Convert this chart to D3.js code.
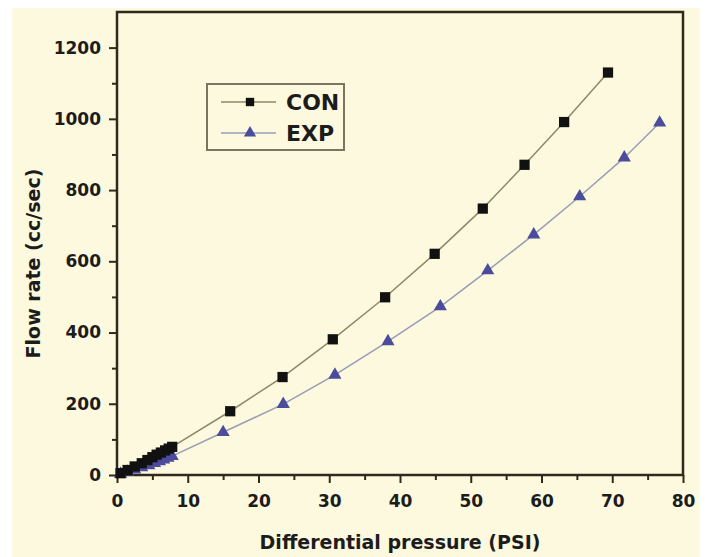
<!DOCTYPE html>
<html>
<head>
<meta charset="utf-8">
<script src="https://cdn.jsdelivr.net/npm/d3@7"></script>
<style>
  body { margin: 0; background: #fff; }
  text { font-family: "DejaVu Sans", "Liberation Sans", sans-serif; font-weight: bold; fill: #1c1c1c; }
</style>
</head>
<body>
<div id="chart"></div>
<script>
// CON series (squares)
const conX = [0.5, 1.5, 2.5, 3.5, 4.3, 5.0, 5.6, 6.2, 6.8, 7.3, 7.8, 16.0, 23.4, 30.5, 37.9, 44.9, 51.7, 57.6, 63.2, 69.4];
const conY = [5, 14, 24, 33, 42, 50, 57, 63, 69, 74, 79, 179, 275, 381, 499, 621, 748, 871, 991, 1130];
// EXP series (triangles)
const expX = [0.5, 1.5, 2.5, 3.5, 4.5, 5.3, 6.0, 6.6, 7.2, 7.8, 15.0, 23.5, 30.8, 38.3, 45.7, 52.4, 58.9, 65.4, 71.7, 76.7];
const expY = [3, 9, 15, 21, 27, 33, 38, 43, 48, 53, 120, 199, 281, 375, 473, 574, 675, 782, 891, 989];

const xTicks = [0, 10, 20, 30, 40, 50, 60, 70, 80];
const yTicks = [0, 200, 400, 600, 800, 1000, 1200];
const seriesNames = ['CON', 'EXP'];

const W = 709, H = 557;
const margin = {top: 12, right: 26, bottom: 82, left: 117};

const svg = d3.select('#chart').append('svg')
    .attr('width', W)
    .attr('height', H);

// cream background panel
svg.append('rect')
    .attr('x', 12).attr('y', 8)
    .attr('width', 688).attr('height', H - 8)
    .attr('fill', '#fdf9df');

const x = d3.scaleLinear().domain([0, 80]).range([margin.left, W - margin.right]);
const y = d3.scaleLinear().domain([0, 1300]).range([H - margin.bottom, margin.top]);

const axisColor = '#2f2a1c';

// minor ticks
const xMinor = d3.range(5, 80, 10);
const yMinor = d3.range(100, 1300, 200);

svg.append('g')
    .attr('transform', `translate(0,${y(0)})`)
    .call(d3.axisBottom(x).tickValues(xTicks).tickFormat(d3.format('d')).tickSize(8).tickPadding(12).tickSizeOuter(0));
svg.append('g')
    .attr('transform', `translate(0,${y(0)})`)
    .call(d3.axisBottom(x).tickValues(xMinor).tickSize(5).tickFormat('').tickSizeOuter(0));

svg.append('g')
    .attr('transform', `translate(${x(0)},0)`)
    .call(d3.axisLeft(y).tickValues(yTicks).tickFormat(d3.format('d')).tickSize(8).tickPadding(8).tickSizeOuter(0));
svg.append('g')
    .attr('transform', `translate(${x(0)},0)`)
    .call(d3.axisLeft(y).tickValues(yMinor).tickSize(5).tickFormat('').tickSizeOuter(0));

svg.selectAll('.domain').remove();
svg.selectAll('.tick line').attr('stroke', axisColor).attr('stroke-width', 2);
svg.selectAll('.tick text')
    .attr('font-family', null).attr('font-size', null)
    .style('font-size', '17px').attr('fill', '#1c1c1c');

// frame
svg.append('rect')
    .attr('x', x(0)).attr('y', y(1300))
    .attr('width', x(80) - x(0)).attr('height', y(0) - y(1300))
    .attr('fill', 'none')
    .attr('stroke', axisColor)
    .attr('stroke-width', 2.5);

// axis titles
svg.append('text')
    .attr('x', (x(0) + x(80)) / 2)
    .attr('y', 549)
    .attr('text-anchor', 'middle')
    .style('font-size', '19px')
    .text('Differential pressure (PSI)');

svg.append('text')
    .attr('transform', `translate(40,${(y(0) + y(1300)) / 2 + 20}) rotate(-90)`)
    .attr('text-anchor', 'middle')
    .style('font-size', '19px')
    .text('Flow rate (cc/sec)');

const line = d3.line().x(d => x(d[0])).y(d => y(d[1]));
const con = conX.map((v, i) => [v, conY[i]]);
const exp = expX.map((v, i) => [v, expY[i]]);

const conLine = '#8e876a', expLine = '#9a9cb4';
const conFill = '#111', expFill = '#4b4c9c';

svg.append('path').datum(con).attr('d', line)
    .attr('fill', 'none').attr('stroke', conLine).attr('stroke-width', 1.5);
svg.append('path').datum(exp).attr('d', line)
    .attr('fill', 'none').attr('stroke', expLine).attr('stroke-width', 1.5);

const sq = d3.symbol().type(d3.symbolSquare).size(105);
const tri = d3.symbol().type(d3.symbolTriangle).size(75);

svg.append('g').selectAll('path').data(exp).join('path')
    .attr('d', tri)
    .attr('transform', d => `translate(${x(d[0])},${y(d[1])})`)
    .attr('fill', expFill);
svg.append('g').selectAll('path').data(con).join('path')
    .attr('d', sq)
    .attr('transform', d => `translate(${x(d[0])},${y(d[1])})`)
    .attr('fill', conFill);

// legend
const lg = svg.append('g');
lg.append('rect')
    .attr('x', 207).attr('y', 84)
    .attr('width', 137).attr('height', 66)
    .attr('fill', 'none')
    .attr('stroke', '#7a7460')
    .attr('stroke-width', 2);

seriesNames.forEach((name, i) => {
  const cy = 102 + i * 31;
  lg.append('line')
      .attr('x1', 221).attr('x2', 276)
      .attr('y1', cy).attr('y2', cy)
      .attr('stroke', i === 0 ? conLine : expLine)
      .attr('stroke-width', 1.5);
  lg.append('path')
      .attr('d', i === 0 ? d3.symbol().type(d3.symbolSquare).size(70)() : d3.symbol().type(d3.symbolTriangle).size(65)())
      .attr('transform', `translate(250,${cy})`)
      .attr('fill', i === 0 ? conFill : expFill);
  lg.append('text')
      .attr('x', 286).attr('y', cy)
      .attr('dy', '0.36em')
      .style('font-size', '22px')
      .text(name);
});
</script>
</body>
</html>
